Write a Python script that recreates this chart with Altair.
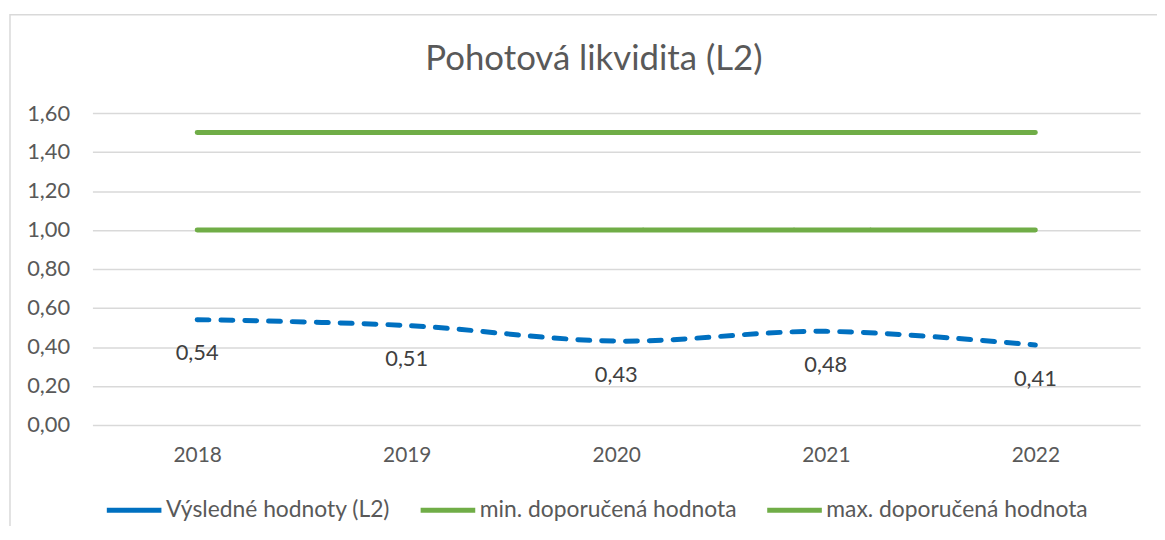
import altair as alt
import pandas as pd

years = ["2018", "2019", "2020", "2021", "2022"]
l2_values = [0.54, 0.51, 0.43, 0.48, 0.41]
min_values = [1.00, 1.00, 1.00, 1.00, 1.00]
max_values = [1.50, 1.50, 1.50, 1.50, 1.50]
series_names = ["Výsledné hodnoty (L2)", "min. doporučená hodnota", "max. doporučená hodnota"]
y_ticks = [0.0, 0.2, 0.4, 0.6, 0.8, 1.0, 1.2, 1.4, 1.6]
title_text = "Pohotová likvidita (L2)"

rows = []
for name, vals in zip(series_names, [l2_values, min_values, max_values]):
    for yr, v in zip(years, vals):
        rows.append({"year": yr, "series": name, "value": v,
                     "dash": "dashed" if name == series_names[0] else "solid"})
df = pd.DataFrame(rows)
l2_df = pd.DataFrame({"year": years, "value": l2_values})

FONT = "Lato"
TXT = "#595959"

x_enc = alt.X("year:O", sort=years, scale=alt.Scale(type="point", padding=0.5),
              axis=alt.Axis(title=None, domain=False, ticks=False, grid=False,
                            labelAngle=0, labelPadding=20, labelFontSize=21,
                            labelColor=TXT, labelFont=FONT))
y_enc = alt.Y("value:Q", scale=alt.Scale(domain=[0, 1.6], nice=False, zero=True),
              axis=alt.Axis(title=None, domain=False, ticks=False, values=y_ticks,
                            tickCount=9,
                            labelExpr="replace(format(datum.value, '.2f'), '.', ',')",
                            labelOverlap=False,
                            labelPadding=23, labelFontSize=22, labelColor=TXT,
                            labelFont=FONT, gridColor="#d9d9d9", gridWidth=1.5))

lines = alt.Chart(df).mark_line(strokeWidth=5, strokeCap="round",
                                interpolate="catmull-rom").encode(
    x=x_enc,
    y=y_enc,
    color=alt.Color("series:N", sort=series_names,
                    scale=alt.Scale(domain=series_names,
                                    range=["#0070C0", "#70AD47", "#70AD47"]),
                    legend=alt.Legend(title=None, orient="none", direction="horizontal",
                                      legendX=12, legendY=370, symbolType="stroke",
                                      symbolSize=3025, symbolStrokeWidth=5,
                                      symbolDash=[1, 0],
                                      labelFontSize=23, labelFont=FONT, labelColor=TXT,
                                      labelLimit=400,
                                      labelOffset=2, columnPadding=20, padding=0)),
    strokeDash=alt.StrokeDash("dash:N",
                              scale=alt.Scale(domain=["dashed", "solid"],
                                              range=[[12, 12], [1, 0]]),
                              legend=None),
    detail="series:N",
)

labels = alt.Chart(l2_df).transform_calculate(
    label="replace(format(datum.value, '.2f'), '.', ',')"
).mark_text(dy=34, fontSize=22, font=FONT, color="#404040").encode(
    x=x_enc,
    y=y_enc,
    text="label:N",
)

frame = alt.Chart(pd.DataFrame({"f": [1]})).mark_rect(
    fill=None, stroke="#d9d9d9", strokeWidth=1.5
).encode(
    x=alt.value(-83), x2=alt.value(1300), y=alt.value(-99), y2=alt.value(700)
)

title = alt.Chart(pd.DataFrame({"t": [title_text]})).mark_text(
    fontSize=35, font=FONT, color=TXT, align="center", baseline="middle"
).encode(
    x=alt.value(505), y=alt.value(-54), text="t:N"
)

chart = alt.layer(frame, lines, labels, title).properties(
    width=1055, height=314,
    autosize=alt.AutoSizeParams(type="none"),
    padding={"left": 85, "top": 104, "right": 17, "bottom": 100},
).configure(background="white").configure_view(stroke=None)

chart.save("out.html", embed_options={"renderer": "svg", "actions": False})
